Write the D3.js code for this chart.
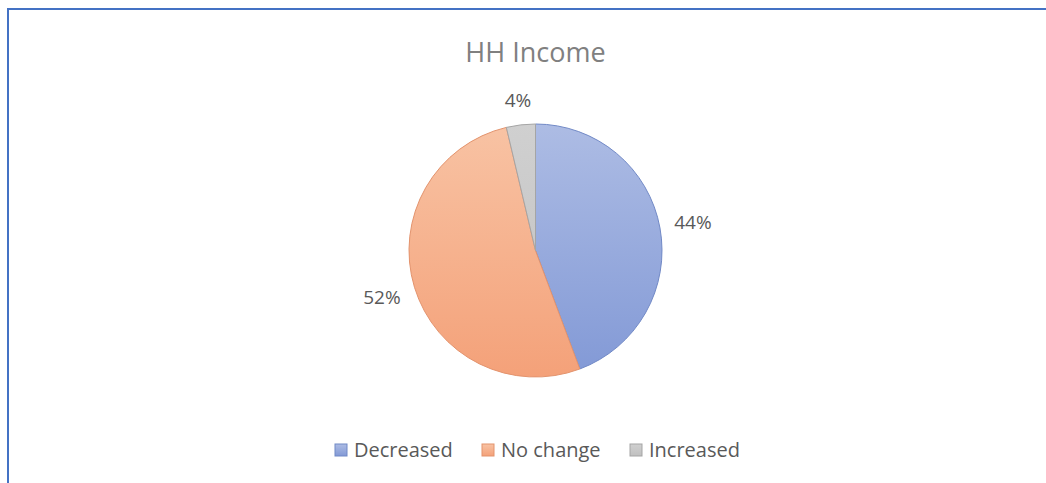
<!DOCTYPE html>
<html>
<head>
<meta charset="utf-8">
<script src="https://cdn.jsdelivr.net/npm/d3@7"></script>
<style>
  body { margin: 0; background: #fff; }
  svg { display: block; }
</style>
</head>
<body>
<div id="chart"></div>
<script>
var categories = ["Decreased", "No change", "Increased"];
var values = [44.3, 52.0, 3.7];
var labels = ["44%", "52%", "4%"];
var title = "HH Income";

function drawPie() {
    var w = 1046;
    var h = 483;
    var cx = 535.5, cy = 250.5;
    var outerRadius = 126.5;

    var svg = d3.select("#chart")
                .append("svg")
                .attr("width", w)
                .attr("height", h);

    // chart frame (only top and left edges visible)
    svg.append("path")
        .attr("d", "M8," + h + "V9H" + w)
        .attr("fill", "none")
        .attr("stroke", "#4472c4")
        .attr("stroke-width", 2);

    var grads = [["#adbce4", "#8299d6"], ["#f8c3a4", "#f4a179"], ["#d0d0d0", "#c0c0c0"]];
    var strokes = ["#7189c6", "#e3936d", "#a5a5a5"];
    var defs = svg.append("defs");
    grads.forEach(function(g, i) {
        // pie gradient, in the pie group's own coordinates
        var lg = defs.append("linearGradient")
            .attr("id", "g" + i)
            .attr("gradientUnits", "userSpaceOnUse")
            .attr("x1", 0).attr("y1", -outerRadius)
            .attr("x2", 0).attr("y2", outerRadius);
        lg.append("stop").attr("offset", "0%").attr("stop-color", g[0]);
        lg.append("stop").attr("offset", "100%").attr("stop-color", g[1]);
        // legend swatch gradient
        var lb = defs.append("linearGradient")
            .attr("id", "l" + i)
            .attr("x1", 0).attr("y1", 0)
            .attr("x2", 0).attr("y2", 1);
        lb.append("stop").attr("offset", "0%").attr("stop-color", g[0]);
        lb.append("stop").attr("offset", "100%").attr("stop-color", g[1]);
    });

    svg.append("text")
        .attr("x", cx)
        .attr("y", 62)
        .attr("text-anchor", "middle")
        .attr("font-family", "'Open Sans', sans-serif")
        .attr("font-size", 27)
        .attr("fill", "#808080")
        .text(title);

    var pie = d3.pie().sort(null).value(function(d) { return d; });
    var arc = d3.arc().innerRadius(0).outerRadius(outerRadius);

    var arcs = svg.append("g")
        .attr("transform", "translate(" + cx + "," + cy + ")")
        .selectAll("g.arc")
        .data(pie(values))
        .enter()
        .append("g")
        .attr("class", "arc");

    arcs.append("path")
        .attr("d", arc)
        .attr("fill", function(d, i) { return "url(#g" + i + ")"; })
        .attr("stroke", function(d, i) { return strokes[i]; })
        .attr("stroke-width", 1);

    // labels sit just outside the edge, like "outside end"
    arcs.append("text")
        .text(function(d, i) { return labels[i]; })
        .attr("transform", function(d) {
            var a = (d.startAngle + d.endAngle) / 2;
            var r = outerRadius + 12 + Math.abs(Math.sin(a)) * 20 + Math.abs(Math.cos(a)) * 10;
            return "translate(" + (Math.sin(a) * r) + "," + (-Math.cos(a) * r) + ")";
        })
        .attr("text-anchor", "middle")
        .attr("dy", "0.35em")
        .attr("font-family", "'Open Sans', sans-serif")
        .attr("font-size", 19)
        .attr("fill", "#595959");

    // legend
    var legendX = [335, 482, 630];
    var legend = svg.append("g")
        .selectAll("g")
        .data(categories)
        .enter()
        .append("g")
        .attr("transform", function(d, i) { return "translate(" + legendX[i] + ",450)"; });

    legend.append("rect")
        .attr("x", 0).attr("y", -6)
        .attr("width", 12).attr("height", 12)
        .attr("fill", function(d, i) { return "url(#l" + i + ")"; })
        .attr("stroke", function(d, i) { return strokes[i]; });

    legend.append("text")
        .attr("x", 19)
        .attr("dy", "0.35em")
        .attr("font-family", "'Open Sans', sans-serif")
        .attr("font-size", 20)
        .attr("fill", "#595959")
        .text(function(d) { return d; });
}

window.onload = drawPie;
</script>
</body>
</html>
